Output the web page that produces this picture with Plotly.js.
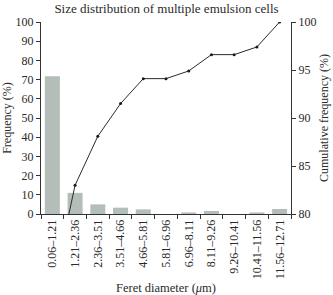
<!DOCTYPE html>
<html>
<head>
<meta charset="utf-8">
<script src="https://cdn.plot.ly/plotly-3.0.1.min.js"></script>
<style>
  html, body { margin: 0; padding: 0; background: #fff; }
  #chart { width: 333px; height: 295px; }
</style>
</head>
<body>
<div id="chart"></div>
<script>
// Feret diameter size classes (µm)
const sizeClasses = [
  "0.06–1.21", "1.21–2.36", "2.36–3.51", "3.51–4.66", "4.66–5.81", "5.81–6.96",
  "6.96–8.11", "8.11–9.26", "9.26–10.41", "10.41–11.56", "11.56–12.71"
];
// Frequency per class (%)
const frequency = [71.8, 11.0, 5.0, 3.3, 2.4, 0, 0.8, 1.6, 0, 0.8, 2.6];
// Cumulative frequency (%)
const cumulative = [72.0, 83.0, 88.1, 91.5, 94.1, 94.1, 94.9, 96.6, 96.6, 97.4, 100];

const leftTicks = [0, 10, 20, 30, 40, 50, 60, 70, 80, 90, 100];
const rightTicks = [80, 85, 90, 95, 100];

const serif = "Liberation Serif, Times New Roman, serif";
const ink = "#2a2a2a";

const bars = {
  type: "bar",
  x: sizeClasses,
  y: frequency,
  width: 0.66,
  marker: { color: "#b3beb8", line: { width: 0 } },
  hoverinfo: "x+y"
};

const cumLine = {
  type: "scatter",
  mode: "lines+markers",
  x: sizeClasses,
  y: cumulative,
  yaxis: "y2",
  line: { color: "#2b2b2b", width: 1 },
  marker: { color: "#1a1a1a", size: 3 },
  cliponaxis: true
};

const layout = {
  width: 333,
  height: 295,
  margin: { l: 41, r: 42, t: 22, b: 81, pad: 0 },
  paper_bgcolor: "#fff",
  plot_bgcolor: "#fff",
  showlegend: false,
  font: { family: serif, size: 12, color: ink },
  title: {
    text: "Size distribution of multiple emulsion cells",
    font: { family: serif, size: 13, color: ink },
    x: 0.5, xanchor: "center",
    y: 0.972, yanchor: "middle"
  },
  xaxis: {
    type: "category",
    range: [-0.5, 10.5],
    showgrid: false,
    zeroline: false,
    showline: true,
    linecolor: "#333",
    linewidth: 1,
    ticks: "outside",
    tickson: "boundaries",
    ticklen: 4,
    tickcolor: "#333",
    tickangle: -90,
    tickfont: { family: serif, size: 12, color: ink },
    title: {
      text: "Feret diameter (<i>μ</i>m)",
      font: { family: serif, size: 12.5, color: ink },
      standoff: 13
    }
  },
  yaxis: {
    range: [0, 100],
    tickvals: leftTicks,
    showgrid: false,
    zeroline: false,
    showline: true,
    linecolor: "#333",
    linewidth: 1,
    ticks: "outside",
    ticklen: 4,
    tickcolor: "#333",
    tickfont: { family: serif, size: 12, color: ink },
    title: {
      text: "Frequency (%)",
      font: { family: serif, size: 12, color: ink },
      standoff: 3
    }
  },
  yaxis2: {
    overlaying: "y",
    side: "right",
    range: [80, 100],
    tickvals: rightTicks,
    showgrid: false,
    zeroline: false,
    showline: true,
    linecolor: "#333",
    linewidth: 1,
    ticks: "outside",
    ticklen: 4,
    tickcolor: "#333",
    tickfont: { family: serif, size: 12, color: ink },
    title: {
      text: "Cumulative frequency (%)",
      font: { family: serif, size: 12, color: ink },
      standoff: 4
    }
  }
};

Plotly.newPlot("chart", [bars, cumLine], layout, { displayModeBar: false, staticPlot: true });
</script>
</body>
</html>
